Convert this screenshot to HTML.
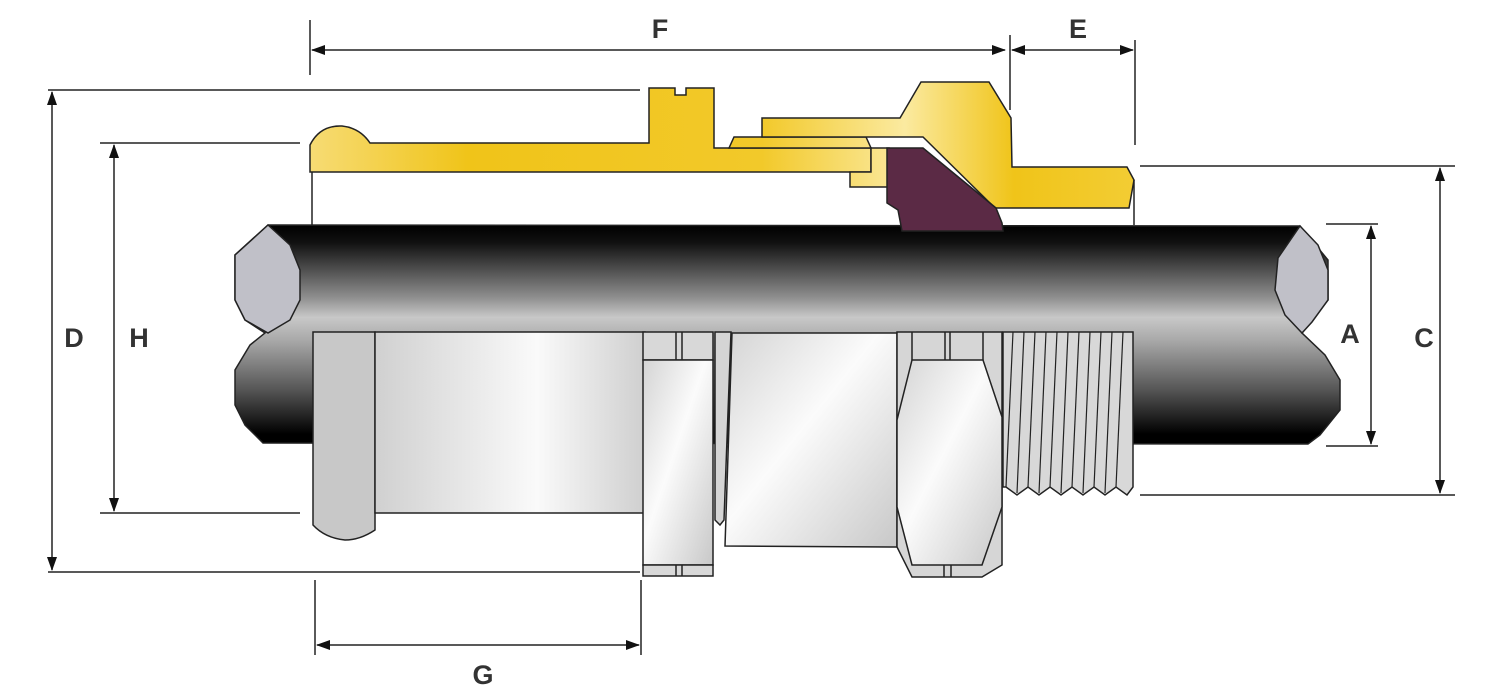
<!DOCTYPE html>
<html><head><meta charset="utf-8"><style>
html,body{margin:0;padding:0;background:#fff;}
svg{display:block;}
text{font-family:"Liberation Sans",sans-serif;font-weight:bold;font-size:27px;fill:#333;}
</style></head><body>
<svg width="1500" height="700" viewBox="0 0 1500 700" xmlns="http://www.w3.org/2000/svg">
<defs>
<linearGradient id="cab" x1="0" y1="225" x2="0" y2="445" gradientUnits="userSpaceOnUse">
<stop offset="0" stop-color="#000"/><stop offset="0.08" stop-color="#111"/><stop offset="0.33" stop-color="#8f8f8f"/><stop offset="0.42" stop-color="#c8c8c8"/><stop offset="0.52" stop-color="#aaa"/><stop offset="0.75" stop-color="#555"/><stop offset="0.95" stop-color="#000"/></linearGradient>
<linearGradient id="body" x1="375" y1="0" x2="645" y2="0" gradientUnits="userSpaceOnUse">
<stop offset="0" stop-color="#d0d0d0"/><stop offset="0.6" stop-color="#fafafa"/><stop offset="1" stop-color="#cfcfcf"/></linearGradient>
<linearGradient id="met" x1="0" y1="0" x2="1" y2="1">
<stop offset="0" stop-color="#d4d4d4"/><stop offset="0.45" stop-color="#fbfbfb"/><stop offset="1" stop-color="#c8c8c8"/></linearGradient>
<linearGradient id="brass" x1="300" y1="0" x2="1140" y2="0" gradientUnits="userSpaceOnUse">
<stop offset="0" stop-color="#f7dd7a"/><stop offset="0.2" stop-color="#f0c419"/><stop offset="0.55" stop-color="#f2c92a"/><stop offset="0.72" stop-color="#fbeaa0"/><stop offset="0.85" stop-color="#f0c419"/><stop offset="1" stop-color="#f3cd35"/></linearGradient>
<marker id="ar" markerWidth="14" markerHeight="10" refX="13" refY="5" orient="auto-start-reverse" markerUnits="userSpaceOnUse"><path d="M0,0 L14,5 L0,10 z" fill="#111"/></marker>
</defs>
<g stroke="#222" stroke-width="1.5">
<path d="M268,225 L1300,226 L1328,260 L1328,300 L1302,333 L1325,355 L1340,380 L1340,410 L1320,435 L1308,444 L263,443 L245,425 L235,405 L235,370 L250,345 L265,333 L245,320 L235,300 L235,255 Z" fill="url(#cab)"/>
<path d="M268,225 L290,245 L300,270 L300,300 L290,320 L268,333 L245,320 L235,300 L235,255 Z" fill="#c0c0c8"/>
<path d="M1300,226 L1318,245 L1328,270 L1328,300 L1312,322 L1302,333 L1285,315 L1275,290 L1278,258 Z" fill="#c0c0c8"/>
<path d="M310,172 L310,145 Q320,125 342,126 Q360,128 370,143 L649,143 L649,88 L675,88 L675,95 L686,95 L686,88 L714,88 L714,148 L871,148 L871,172 Z" fill="url(#brass)"/>
<line x1="312" y1="172" x2="312" y2="225"/>
<path d="M729,148 L734,137 L866,137 L871,148 Z" fill="url(#brass)"/>
<path d="M871,148 L889,148 L889,187 L850,187 L850,172 L871,172 Z" fill="url(#brass)"/>
<path d="M762,137 L762,118 L900,118 L921,82 L989,82 L1011,118 L1012,167 L1127,167 L1134,180 L1129,208 L995,208 L923,137 Z" fill="url(#brass)"/>
<path d="M887,148 L923,148 L996,208 L1002,223 L1003,231 L902,231 L898,210 L887,203 Z" fill="#5b2a45"/>
<line x1="1134" y1="180" x2="1134" y2="225"/>
<path d="M313,332 L375,332 L375,530 Q360,540 345,540 Q325,538 313,525 Z" fill="#c8c8c8"/>
<rect x="375" y="332" width="270" height="181" fill="url(#body)"/>
<rect x="643" y="332" width="70" height="28" fill="#d8d8d8"/>
<line x1="676" y1="332" x2="676" y2="360"/><line x1="682" y1="332" x2="682" y2="360"/>
<rect x="643" y="360" width="70" height="205" fill="url(#met)"/>
<rect x="643" y="565" width="70" height="11" fill="#d8d8d8"/>
<line x1="676" y1="565" x2="676" y2="576"/><line x1="682" y1="565" x2="682" y2="576"/>
<path d="M715,332 L731,332 L724,520 L720,525 L715,520 Z" fill="#d5d5d5"/>
<path d="M732,333 L897,333 L897,547 L725,546 Z" fill="url(#met)"/>
<path d="M897,332 L1002,332 L1002,565 L982,577 L912,577 L897,547 Z" fill="#d6d6d6"/>
<path d="M912,360 L983,360 L1002,417 L1002,507 L982,565 L912,565 L897,507 L897,420 Z" fill="url(#met)"/>
<line x1="912" y1="332" x2="912" y2="360"/><line x1="983" y1="332" x2="983" y2="360"/>
<line x1="945" y1="332" x2="945" y2="360"/><line x1="950" y1="332" x2="950" y2="360"/>
<line x1="944" y1="565" x2="944" y2="577"/><line x1="951" y1="565" x2="951" y2="577"/>
<path d="M1003,332 L1133,332 L1133,487 L1127,495 L1116,487 L1105,495 L1094,487 L1083,495 L1072,487 L1061,495 L1050,487 L1039,495 L1028,487 L1017,495 L1006,487 L1003,487 Z" fill="#d8d8d8"/>
<g stroke-width="1.2">
<line x1="1013" y1="332" x2="1006" y2="487"/><line x1="1024" y1="332" x2="1017" y2="493"/><line x1="1035" y1="332" x2="1028" y2="487"/><line x1="1046" y1="332" x2="1039" y2="493"/><line x1="1057" y1="332" x2="1050" y2="487"/><line x1="1068" y1="332" x2="1061" y2="493"/><line x1="1079" y1="332" x2="1072" y2="487"/><line x1="1090" y1="332" x2="1083" y2="493"/><line x1="1101" y1="332" x2="1094" y2="487"/><line x1="1112" y1="332" x2="1105" y2="493"/><line x1="1123" y1="332" x2="1116" y2="487"/>
</g>
</g>
<g stroke="#222" stroke-width="1.5" fill="none">
<line x1="310" y1="20" x2="310" y2="75"/>
<line x1="1010" y1="35" x2="1010" y2="110"/>
<line x1="1135" y1="40" x2="1135" y2="145"/>
<line x1="312" y1="50" x2="1005" y2="50" marker-start="url(#ar)" marker-end="url(#ar)"/>
<line x1="1012" y1="50" x2="1133" y2="50" marker-start="url(#ar)" marker-end="url(#ar)"/>
<line x1="48" y1="90" x2="640" y2="90"/>
<line x1="48" y1="572" x2="640" y2="572"/>
<line x1="52" y1="92" x2="52" y2="570" marker-start="url(#ar)" marker-end="url(#ar)"/>
<line x1="100" y1="143" x2="300" y2="143"/>
<line x1="100" y1="513" x2="300" y2="513"/>
<line x1="114" y1="145" x2="114" y2="511" marker-start="url(#ar)" marker-end="url(#ar)"/>
<line x1="1326" y1="224" x2="1378" y2="224"/>
<line x1="1326" y1="446" x2="1378" y2="446"/>
<line x1="1371" y1="226" x2="1371" y2="444" marker-start="url(#ar)" marker-end="url(#ar)"/>
<line x1="1140" y1="166" x2="1455" y2="166"/>
<line x1="1140" y1="495" x2="1455" y2="495"/>
<line x1="1440" y1="168" x2="1440" y2="493" marker-start="url(#ar)" marker-end="url(#ar)"/>
<line x1="315" y1="580" x2="315" y2="655"/>
<line x1="641" y1="580" x2="641" y2="655"/>
<line x1="317" y1="645" x2="639" y2="645" marker-start="url(#ar)" marker-end="url(#ar)"/>
</g>
<text x="660" y="38" text-anchor="middle">F</text>
<text x="1078" y="38" text-anchor="middle">E</text>
<text x="74" y="347" text-anchor="middle">D</text>
<text x="139" y="347" text-anchor="middle">H</text>
<text x="1350" y="343" text-anchor="middle">A</text>
<text x="1424" y="347" text-anchor="middle">C</text>
<text x="483" y="684" text-anchor="middle">G</text>
</svg>
</body></html>
